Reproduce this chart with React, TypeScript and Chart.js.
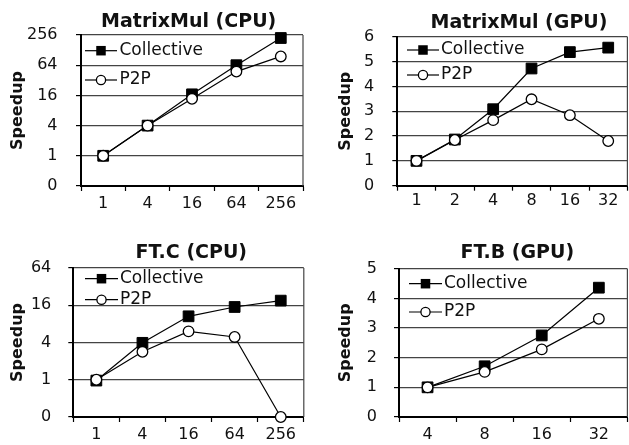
import React, { useEffect, useRef } from 'react';
import { Chart, registerables } from 'chart.js';

Chart.register(...registerables);

// ---------- data ----------
const MM_CPU_CATEGORIES = ['1', '4', '16', '64', '256'];
const MM_CPU_COLLECTIVE = [1, 4, 16.8, 64, 223];
const MM_CPU_P2P = [1, 4, 13.7, 47.8, 95.7];

const MM_GPU_CATEGORIES = ['1', '2', '4', '8', '16', '32'];
const MM_GPU_COLLECTIVE = [1, 1.86, 3.08, 4.72, 5.38, 5.56];
const MM_GPU_P2P = [1, 1.84, 2.64, 3.48, 2.84, 1.8];

const FTC_CPU_CATEGORIES = ['1', '4', '16', '64', '256'];
const FTC_CPU_COLLECTIVE = [0.97, 3.95, 10.6, 15.0, 19.0];
const FTC_CPU_P2P = [1, 2.83, 6.06, 4.92, 0];

const FTB_GPU_CATEGORIES = ['4', '8', '16', '32'];
const FTB_GPU_COLLECTIVE = [1, 1.71, 2.75, 4.36];
const FTB_GPU_P2P = [1, 1.52, 2.28, 3.31];

// log axes: the bottom tick (a quarter of 1) is labelled "0"
const LOG_FLOOR = 0.25;
const LOG_TICKS_256 = [0.25, 1, 4, 16, 64, 256];
const LOG_LABELS_256 = ['0', '1', '4', '16', '64', '256'];
const LOG_TICKS_64 = [0.25, 1, 4, 16, 64];
const LOG_LABELS_64 = ['0', '1', '4', '16', '64'];
const LIN_MAX_MM_GPU = 6;
const LIN_MAX_FTB_GPU = 5;

const SERIES_NAMES = ['Collective', 'P2P'];

// ---------- style ----------
const FONT = "'DejaVu Sans', sans-serif";
const TEXT = '#111';
const GRID = '#444';
const GRID_W = 1.2;

type PanelSpec = {
  title: string;
  categories: string[];
  collective: number[];
  p2p: number[];
  log: boolean;
  tickValues?: number[];
  tickLabels?: string[];
  max: number;
  box: { left: number; top: number; width: number; height: number };
  pad: { left: number; right: number; top: number };
  yWidth: number;
  xHeight: number;
  xPad: number;
  yPad: number;
  titlePos: { x: number; y: number };
  legend: { x0: number; x1: number; mx: number; tx: number; y1: number; y2: number };
};

const PANELS: PanelSpec[] = [
  {
    title: 'MatrixMul (CPU)',
    categories: MM_CPU_CATEGORIES,
    collective: MM_CPU_COLLECTIVE,
    p2p: MM_CPU_P2P,
    log: true,
    tickValues: LOG_TICKS_256,
    tickLabels: LOG_LABELS_256,
    max: 256,
    box: { left: 0, top: 0, width: 314, height: 222 },
    pad: { left: 8.7, right: 11, top: 35 },
    yWidth: 72.3,
    xHeight: 36,
    xPad: 3,
    yPad: 18.5,
    titlePos: { x: 188.7, y: 27 },
    legend: { x0: 85, x1: 117, mx: 101, tx: 119.5, y1: 50.7, y2: 80 },
  },
  {
    title: 'MatrixMul (GPU)',
    categories: MM_GPU_CATEGORIES,
    collective: MM_GPU_COLLECTIVE,
    p2p: MM_GPU_P2P,
    log: false,
    max: LIN_MAX_MM_GPU,
    box: { left: 314, top: 0, width: 322, height: 222 },
    pad: { left: 22.1, right: 4.5, top: 36.7 },
    yWidth: 61.2,
    xHeight: 36.3,
    xPad: 1,
    yPad: 18,
    titlePos: { x: 205, y: 28.3 },
    legend: { x0: 93, x1: 125, mx: 109, tx: 127, y1: 50, y2: 75 },
  },
  {
    title: 'FT.C (CPU)',
    categories: FTC_CPU_CATEGORIES,
    collective: FTC_CPU_COLLECTIVE,
    p2p: FTC_CPU_P2P,
    log: true,
    tickValues: LOG_TICKS_64,
    tickLabels: LOG_LABELS_64,
    max: 64,
    box: { left: 0, top: 222, width: 314, height: 223 },
    pad: { left: 8.7, right: 10.2, top: 46 },
    yWidth: 64.6,
    xHeight: 28,
    xPad: 3,
    yPad: 17,
    titlePos: { x: 191.3, y: 36 },
    legend: { x0: 85, x1: 118, mx: 101.5, tx: 120, y1: 56.7, y2: 77.7 },
  },
  {
    title: 'FT.B (GPU)',
    categories: FTB_GPU_CATEGORIES,
    collective: FTB_GPU_COLLECTIVE,
    p2p: FTB_GPU_P2P,
    log: false,
    max: LIN_MAX_FTB_GPU,
    box: { left: 314, top: 222, width: 322, height: 223 },
    pad: { left: 22.1, right: 3.7, top: 46.7 },
    yWidth: 62.9,
    xHeight: 28,
    xPad: 3,
    yPad: 17,
    titlePos: { x: 203.3, y: 36 },
    legend: { x0: 95, x1: 128, mx: 111.5, tx: 130, y1: 61.7, y2: 90 },
  },
];

function decorPlugin(p: PanelSpec) {
  return {
    id: 'decor',
    beforeDatasetsDraw(chart: any) {
      const { ctx, chartArea: a } = chart;
      ctx.save();
      ctx.strokeStyle = GRID;
      ctx.lineWidth = GRID_W;
      ctx.beginPath();
      ctx.moveTo(a.right, a.top);
      ctx.lineTo(a.right, a.bottom);
      ctx.stroke();
      ctx.restore();
    },
    afterDraw(chart: any) {
      const { ctx } = chart;
      ctx.save();
      // title
      ctx.fillStyle = TEXT;
      ctx.font = `bold 19px ${FONT}`;
      ctx.textAlign = 'center';
      ctx.textBaseline = 'alphabetic';
      ctx.fillText(p.title, p.titlePos.x, p.titlePos.y);
      // legend
      const L = p.legend;
      const rows = [L.y1, L.y2];
      chart.data.datasets.forEach((ds: any, i: number) => {
        const y = rows[i];
        ctx.strokeStyle = '#000';
        ctx.lineWidth = 1.2;
        ctx.beginPath();
        ctx.moveTo(L.x0, y);
        ctx.lineTo(L.x1, y);
        ctx.stroke();
        if (ds.pointStyle === 'rect') {
          const s = 9.5;
          ctx.fillStyle = '#000';
          ctx.fillRect(L.mx - s / 2, y - s / 2, s, s);
        } else {
          ctx.fillStyle = '#fff';
          ctx.lineWidth = 1.3;
          ctx.beginPath();
          ctx.arc(L.mx, y, 4.6, 0, Math.PI * 2);
          ctx.fill();
          ctx.stroke();
        }
        ctx.fillStyle = TEXT;
        ctx.font = `17px ${FONT}`;
        ctx.textAlign = 'left';
        ctx.textBaseline = 'middle';
        ctx.fillText(ds.label, L.tx, y);
      });
      ctx.restore();
    },
  };
}

function Panel({ spec }: { spec: PanelSpec }) {
  const ref = useRef<HTMLCanvasElement>(null);
  useEffect(() => {
    if (!ref.current) return;
    const p = spec;
    const toPlot = (v: number) => (p.log && v <= 0 ? LOG_FLOOR : v);
    const yScale: any = p.log
      ? {
          type: 'logarithmic',
          min: LOG_FLOOR,
          max: p.max,
          afterBuildTicks: (s: any) => {
            s.ticks = (p.tickValues as number[]).map((v) => ({ value: v }));
          },
          ticks: {
            callback: (v: any) => {
              const idx = (p.tickValues as number[]).indexOf(Number(v));
              return idx >= 0 ? (p.tickLabels as string[])[idx] : '';
            },
          },
        }
      : { type: 'linear', min: 0, max: p.max, ticks: { stepSize: 1 } };
    yScale.afterFit = (s: any) => {
      s.width = p.yWidth;
    };
    yScale.grid = { color: GRID, lineWidth: GRID_W, z: -1, tickLength: 5, tickColor: '#000', tickWidth: 1.2 };
    yScale.border = { display: true, color: '#000', width: 2 };
    yScale.ticks = {
      ...(yScale.ticks || {}),
      color: TEXT,
      font: { family: FONT, size: 16 },
      padding: p.yPad,
      autoSkip: false,
    };
    yScale.title = {
      display: true,
      text: 'Speedup',
      color: TEXT,
      font: { family: FONT, size: 16, weight: 'bold' },
      padding: { top: 0, bottom: 0 },
    };

    const chart = new Chart(ref.current, {
      type: 'line',
      data: {
        labels: p.categories,
        datasets: [
          {
            label: SERIES_NAMES[0],
            data: p.collective.map(toPlot),
            borderColor: '#000',
            borderWidth: 1.2,
            backgroundColor: '#000',
            pointStyle: 'rect',
            pointRadius: 7.6,
            pointBorderWidth: 1,
            pointBorderColor: '#000',
            pointBackgroundColor: '#000',
            tension: 0,
            clip: false as any,
            order: 2,
          },
          {
            label: SERIES_NAMES[1],
            data: p.p2p.map(toPlot),
            borderColor: '#000',
            borderWidth: 1.2,
            backgroundColor: '#fff',
            pointStyle: 'circle',
            pointRadius: 5.3,
            pointBorderWidth: 1.3,
            pointBorderColor: '#000',
            pointBackgroundColor: '#fff',
            tension: 0,
            clip: false as any,
            order: 1,
          },
        ],
      },
      options: {
        responsive: false,
        animation: false,
        events: [],
        layout: { padding: { left: p.pad.left, right: p.pad.right, top: p.pad.top, bottom: 0 } },
        plugins: {
          legend: { display: false },
          title: { display: false },
          tooltip: { enabled: false },
        },
        scales: {
          x: {
            type: 'category',
            offset: true,
            afterFit: (s: any) => {
              s.height = p.xHeight;
            },
            grid: {
              offset: true,
              drawOnChartArea: false,
              drawTicks: true,
              tickLength: 5,
              tickColor: '#000',
              tickWidth: 1.2,
              z: -1,
            },
            border: { display: true, color: '#000', width: 2 },
            ticks: {
              color: TEXT,
              font: { family: FONT, size: 16 },
              padding: p.xPad,
              autoSkip: false,
              maxRotation: 0,
              minRotation: 0,
            },
          },
          y: yScale,
        },
      } as any,
      plugins: [decorPlugin(p)],
    });
    return () => chart.destroy();
  }, [spec]);

  return (
    <div
      style={{
        position: 'absolute',
        left: spec.box.left,
        top: spec.box.top,
        width: spec.box.width,
        height: spec.box.height,
      }}
    >
      <canvas ref={ref} width={spec.box.width} height={spec.box.height} />
    </div>
  );
}

export default function App() {
  return (
    <div
      style={{
        position: 'fixed',
        left: 0,
        top: 0,
        width: 629,
        height: 445,
        overflow: 'hidden',
        background: '#fff',
      }}
    >
      {PANELS.map((s) => (
        <Panel key={s.title} spec={s} />
      ))}
    </div>
  );
}
